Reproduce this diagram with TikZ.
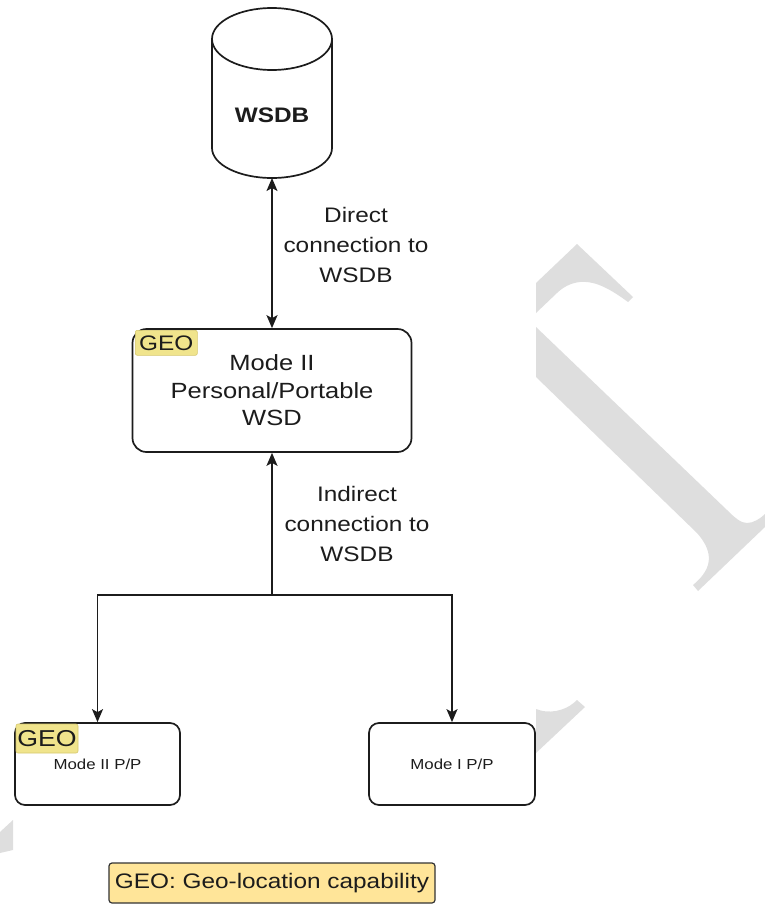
\documentclass[tikz,border=0pt]{standalone}
\usepackage{fontspec}
\setmainfont[FakeStretch=1.16]{Liberation Sans}
\usetikzlibrary{arrows.meta}
\definecolor{geoyellow}{RGB}{240,228,140}
\definecolor{geoedge}{RGB}{214,200,110}
\definecolor{legendfill}{RGB}{255,229,153}
\definecolor{wmark}{RGB}{222,222,222}
\definecolor{ink}{RGB}{28,28,28}

\begin{document}
\begin{tikzpicture}[x=1pt, y=-1pt, line width=1.7pt, >={Stealth[length=13pt,width=11pt,inset=3pt]}]

\tikzstyle{box}=[draw=ink, rectangle, rounded corners=14pt, fill=white, align=center, text=ink]
\tikzstyle{geo}=[draw=geoedge, fill=geoyellow, line width=0.6pt, rounded corners=2pt, minimum width=62pt, inner sep=1pt, anchor=north west, text=ink, font=\fontsize{21}{21}\selectfont]
\tikzstyle{lbl}=[align=center, text=ink, font=\fontsize{21}{30}\selectfont]

\useasboundingbox (0,0) rectangle (765,905);

\fill[wmark] (536,283) -- (577,244) -- (633,297) -- (628,302) .. controls (605,285) and (592,281) .. (580,282) .. controls (570,283) and (562,288) .. (557,293) -- (536,313) -- cycle;
\fill[wmark] (536,327) -- (727,510) .. controls (735,518) and (741,523) .. (747,523) .. controls (753,523) and (760,519) .. (765,514) -- (765,527) -- (698,591) -- (693,585) .. controls (715,567) and (712,550) .. (697,533) -- (536,377) -- cycle;
\fill[wmark] (536,709) .. controls (548,714) and (565,712) .. (577,700) -- (585,707) -- (536,753) -- cycle;
\fill[wmark] (0,832) -- (13,820) -- (13,850) -- (0,853) -- cycle;

\draw[draw=ink, fill=white] (212,39) -- (212,148) arc[start angle=180, end angle=0, x radius=60, y radius=30] -- (332,39);
\draw[draw=ink, fill=white] (272,39) ellipse[x radius=60, y radius=31];
\node[text=ink, font=\bfseries\fontsize{21}{25}\selectfont] (wsdb) at (272,115) {WSDB};
\coordinate (dbbot) at (272,178);

\node[box, minimum width=279pt, minimum height=123pt, font=\fontsize{22}{27.5}\selectfont] (wsd) at (272,390.5) {Mode II\\Personal/Portable\\WSD};
\node[geo, minimum height=25pt] (geo1) at (135,330) {GEO};

\node[box, rounded corners=10pt, minimum width=165pt, minimum height=82pt, font=\fontsize{14.5}{17}\selectfont] (mii) at (97.5,764) {Mode II P/P};
\node[box, rounded corners=10pt, minimum width=166pt, minimum height=82pt, font=\fontsize{14.5}{17}\selectfont] (mi) at (452,764) {Mode I P/P};
\node[geo, minimum height=29pt, font=\fontsize{23}{23}\selectfont] (geo2) at (15.7,723.7) {GEO};

\node[lbl] (direct) at (356,245) {Direct\\connection to\\WSDB};
\node[lbl] (indirect) at (357,524) {Indirect\\connection to\\WSDB};

\coordinate (split) at (272,595);
\draw[ink, <->] (dbbot) -- (wsd.north);
\draw[ink, ->] (split) -- (wsd.south);
\draw[ink, ->] (split) -| (mii.north);
\draw[ink, ->] (split) -| (mi.north);

\node[draw=ink!90, fill=legendfill, rounded corners=3pt, line width=1.2pt, minimum width=326pt, minimum height=40pt, text=ink, font=\fontsize{21}{25}\selectfont] (legend) at (272,883) {GEO: Geo-location capability};

\end{tikzpicture}
\end{document}
